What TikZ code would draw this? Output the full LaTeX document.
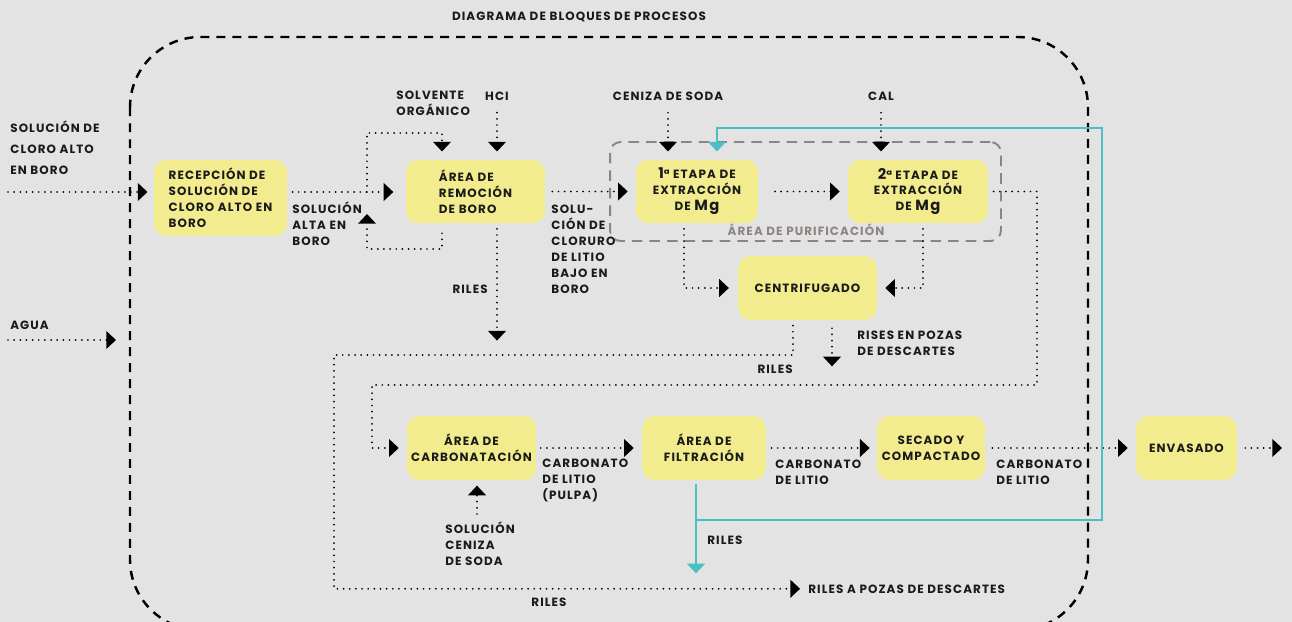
\documentclass[tikz,border=0pt]{standalone}
\usepackage{fontspec}
\setmainfont{Poppins}[LetterSpace=9]
\usetikzlibrary{arrows.meta,positioning}
\definecolor{fondo}{HTML}{E3E3E3}
\definecolor{amarillo}{HTML}{F2EC8E}
\definecolor{turquesa}{HTML}{4BBFC3}
\definecolor{grisarea}{HTML}{8E8380}
\definecolor{tinta}{HTML}{1A1A1A}
\newcommand{\letra}{\bfseries\fontsize{6.8}{9.07}\selectfont}
\newcommand{\grande}[1]{{\fontsize{8.4}{9}\selectfont #1}}

\tikzset{
  proc/.style={fill=amarillo, rounded corners=7pt, minimum height=1.27cm, align=center, inner sep=2pt, font=\letra, text=tinta},
  etiq/.style={inner sep=0pt, align=left, font=\letra, text=tinta},
  punteado/.style={line width=1.1pt, line cap=round, dash pattern=on 0pt off 3.5pt},
  flujo/.style={punteado, -{Triangle[length=5.5pt,width=10pt]}},
  retorno/.style={turquesa, line width=1.2pt, -{Triangle[length=5.5pt,width=10pt]}},
}

\begin{document}
\begin{tikzpicture}[x=0.02cm, y=-0.02cm]
  \fill[fondo] (0,0) rectangle (1292,622);
  \useasboundingbox (0,0) rectangle (1292,622);
  \clip (0,0) rectangle (1292,622);

  \node[etiq, anchor=base] (titulo) at (579,20) {DIAGRAMA DE BLOQUES DE PROCESOS};
  \draw[line width=1.4pt, dash pattern=on 5.1pt off 4pt, rounded corners=40pt] (130,37) rectangle (1088,630);

  \node[draw=grisarea, line width=1.1pt, dash pattern=on 6pt off 4pt, rounded corners=6pt, minimum width=7.82cm, minimum height=1.98cm] (purif) at (805.5,191.5) {};
  \node[etiq, anchor=base, text=grisarea] (purifT) at (806,235) {ÁREA DE PURIFICACIÓN};

  % bloques del proceso
  \node[proc, align=left, minimum width=2.66cm, minimum height=1.52cm] (recep) at (220.5,198) {RECEPCIÓN DE\\SOLUCIÓN DE\\CLORO ALTO EN\\BORO};
  \node[proc, align=left, minimum width=2.78cm] (remo) at (475.5,191.5) {ÁREA DE\\REMOCIÓN\\DE BORO};
  \node[proc, minimum width=2.44cm] (etapa1) at (697,191.5) {\grande{1}ª ETAPA DE\\EXTRACCIÓN\\DE \grande{Mg}};
  \node[proc, minimum width=2.8cm] (etapa2) at (918,191.5) {\grande{2}ª ETAPA DE\\EXTRACCIÓN\\DE \grande{Mg}};
  \node[proc, minimum width=2.78cm, minimum height=1.28cm] (centri) at (807.5,288) {CENTRIFUGADO};
  \node[proc, minimum width=2.58cm, minimum height=1.28cm] (carbo) at (471.5,448) {ÁREA DE\\CARBONATACIÓN};
  \node[proc, minimum width=2.48cm, minimum height=1.28cm] (filtra) at (704,448) {ÁREA DE\\FILTRACIÓN};
  \node[proc, minimum width=2.16cm, minimum height=1.28cm] (secado) at (931,448) {SECADO Y\\COMPACTADO};
  \node[proc, minimum width=2.02cm, minimum height=1.28cm] (envas) at (1186.5,448) {ENVASADO};

  % entradas
  \coordinate (entrada) at (8,192);
  \coordinate (agua0) at (8,340);
  \coordinate (agua1) at (116,340);
  \node[etiq, anchor=base west, font=\bfseries\fontsize{6.8}{11.9}\selectfont] (solEnt) at (10,174) {SOLUCIÓN DE\\CLORO ALTO\\EN BORO};
  \node[etiq, anchor=base west] (aguaT) at (10,329) {AGUA};
  \draw[flujo, shorten >=3.5pt] (entrada) -- (entrada -| recep.west);
  \draw[flujo] (agua0) -- (agua1);

  % remocion de boro
  \coordinate (jsolv) at (367,192);
  \coordinate (solvx) at (442,133);
  \coordinate (jret) at (367,249);
  \draw[flujo, shorten <=3pt, shorten >=7pt] (recep.east |- jsolv) -- (jsolv -| remo.west);
  \node[etiq, anchor=base west] (solAlta) at (292,245) {SOLUCIÓN\\ALTA EN\\BORO};
  \node[etiq, anchor=base west] (solv) at (396,115) {SOLVENTE\\ORGÁNICO};
  \draw[flujo, shorten >=4.5pt] (jsolv) |- (solvx) -- (solvx |- remo.north);
  \node[etiq, anchor=base] (hcl) at (497,100) {HCI};
  \draw[flujo, shorten <=7pt, shorten >=4.5pt] (hcl.south) -- (hcl.south |- remo.north);
  \draw[flujo, shorten <=5.5pt] (solvx |- remo.south) |- (jret) -- ++(0,-35);
  \draw[flujo, shorten <=3pt] (hcl.south |- remo.south) -- ++(0,117);
  \node[etiq, anchor=base east] (rilesA) at (488,293) {RILES};

  % purificacion
  \draw[flujo, shorten <=4pt, shorten >=4.5pt] (remo.east) -- (etapa1.west);
  \node[etiq, anchor=base west] (solBajo) at (551,293) {SOLU-\\CIÓN DE\\CLORURO\\DE LITIO\\BAJO EN\\BORO};
  \node[etiq, anchor=base] (ceniza) at (668,100) {CENIZA DE SODA};
  \draw[flujo, shorten <=7pt, shorten >=4.5pt] (ceniza.south) -- (ceniza.south |- etapa1.north);
  \node[etiq, anchor=base] (cal) at (881,100) {CAL};
  \draw[flujo, shorten <=7pt, shorten >=4.5pt] (cal.south) -- (cal.south |- etapa2.north);
  \draw[flujo, shorten <=9.5pt, shorten >=4.5pt] (etapa1) -- (etapa2);
  \draw[flujo, shorten <=3pt, shorten >=5pt] ([xshift=-0.26cm]etapa1.south) |- (centri.west);
  \draw[flujo, shorten <=3pt, shorten >=4.5pt] ([xshift=0.1cm]etapa2.south) |- (centri.east);

  % riles del centrifugado
  \coordinate (rilesB) at (334,355);
  \node[etiq, anchor=base west] (pozas) at (808,593) {RILES A POZAS DE DESCARTES};
  \draw[flujo, shorten <=3pt, shorten >=4.5pt] ([xshift=-0.29cm]centri.south) |- (rilesB) |- (pozas.west);
  \node[etiq, anchor=base east] (rilesD) at (793,373) {RILES};
  \node[etiq, anchor=base] (rilesC) at (549,606) {RILES};
  \draw[flujo, shorten <=4.5pt] ([xshift=0.49cm]centri.south) -- ++(0,46);
  \node[etiq, anchor=base west] (rises) at (857,355) {RISES EN POZAS\\DE DESCARTES};

  % carbonatacion y producto
  \coordinate (j2a) at (1037,385);
  \coordinate (j2b) at (372,385);
  \draw[flujo, shorten <=3pt, shorten >=4.5pt] (etapa2.east) -| (j2a) -- (j2b) |- (carbo.west);
  \draw[flujo, shorten <=2.5pt, shorten >=4.5pt] (carbo) -- (filtra);
  \node[etiq, anchor=base west] (carbPulpa) at (542,499) {CARBONATO\\DE LITIO\\(PULPA)};
  \coordinate (cenizaB) at (477,514);
  \draw[flujo, shorten >=3pt] (cenizaB) -- (cenizaB |- carbo.south);
  \node[etiq, anchor=base west] (solCen) at (445,565) {SOLUCIÓN\\CENIZA\\DE SODA};
  \draw[flujo, shorten <=3pt, shorten >=4pt] (filtra) -- (secado);
  \node[etiq, anchor=base west] (carbA) at (775,484) {CARBONATO\\DE LITIO};
  \draw[flujo, shorten <=4pt, shorten >=4.5pt] (secado) -- (envas);
  \node[etiq, anchor=base west] (carbB) at (996,484) {CARBONATO\\DE LITIO};
  \coordinate (salida) at (1282,448);
  \draw[flujo, shorten <=4.5pt] (envas) -- (salida);

  % recirculacion de riles
  \coordinate (jfil) at (696,520);
  \coordinate (tealR) at (1102,128);
  \draw[retorno, shorten <=2pt] ([xshift=-0.16cm]filtra.south) -- ++(0,93);
  \draw[retorno, shorten >=4.5pt] (jfil) -| (tealR) -| ([xshift=0.4cm]etapa1.north);
  \node[etiq, anchor=base west] (rilesE) at (707,544) {RILES};
\end{tikzpicture}
\end{document}
